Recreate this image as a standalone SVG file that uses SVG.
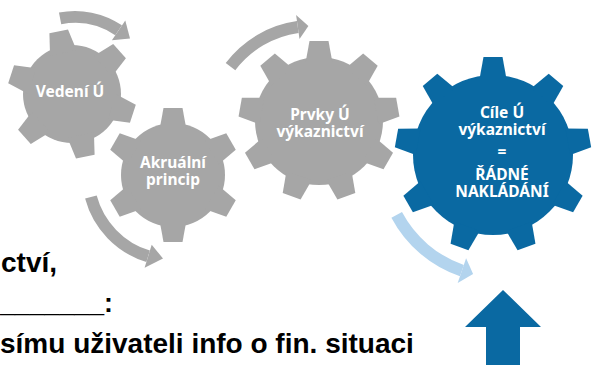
<svg xmlns="http://www.w3.org/2000/svg" width="593" height="365" viewBox="0 0 593 365">
<style>
.gray{fill:#a6a6a6}
.blue{fill:#0a69a2}
.gt{font-family:"Noto Sans","Open Sans","DejaVu Sans",sans-serif;font-weight:700;font-size:15.5px;fill:#ffffff;text-anchor:middle}
.band{fill:none;stroke-width:12}
.bandg{stroke:#a6a6a6}
.bandl{stroke:#b3d4ee}
.lt{font-family:"Liberation Sans",Arial,sans-serif;font-weight:700;font-size:28px;fill:#000000}
</style>
<defs>
<polygon id="tooth" points="-9.5,0 9.5,0 13.5,22 -13.5,22"/>
</defs>
<rect width="593" height="365" fill="#ffffff"/>

<g id="connectors">
<path class="band bandg" d="M60.1,18.4 A78,78 0 0 1 118.6,30.3"/>
<polygon class="gray" points="125.3,20.4 130,38.5 111.9,40.3"/>
<path class="band bandg" d="M90.9,197 A85,85 0 0 0 148.1,256.3"/>
<polygon class="gray" points="151.7,244.8 163,258.5 144.6,267.8"/>
<path class="band bandg" d="M230.5,66.6 A102,102 0 0 1 297.8,27"/>
<polygon class="gray" points="296.1,15.1 308.4,26.1 299.5,38.9"/>
<path class="band bandl" d="M396.7,214.9 A117,117 0 0 0 461.9,270.6"/>
<polygon fill="#b3d4ee" points="466.1,258.3 473.1,273.9 457.7,282.9"/>
<polygon id="up-arrow" class="blue" points="503,290 541,327 520,327 520,366 486,366 486,327 465,327"/>
</g>

<g id="gear-vedeni">
<g class="gray" transform="translate(72,94)">
<circle r="49"/>
<use href="#tooth" transform="rotate(-12) translate(0,-64)"/>
<use href="#tooth" transform="rotate(48) translate(0,-64)"/>
<use href="#tooth" transform="rotate(108) translate(0,-64)"/>
<use href="#tooth" transform="rotate(168) translate(0,-64)"/>
<use href="#tooth" transform="rotate(228) translate(0,-64)"/>
<use href="#tooth" transform="rotate(288) translate(0,-64)"/>
</g>
<text class="gt" x="70" y="97">Vedení Ú</text>
</g>

<g id="gear-akrualni">
<g class="gray" transform="translate(173,175)">
<circle r="52"/>
<use href="#tooth" transform="rotate(0) translate(0,-67)"/>
<use href="#tooth" transform="rotate(60) translate(0,-67)"/>
<use href="#tooth" transform="rotate(120) translate(0,-67)"/>
<use href="#tooth" transform="rotate(180) translate(0,-67)"/>
<use href="#tooth" transform="rotate(240) translate(0,-67)"/>
<use href="#tooth" transform="rotate(300) translate(0,-67)"/>
</g>
<text class="gt" x="173" y="168">Akruální</text>
<text class="gt" x="173" y="185">princip</text>
</g>

<g id="gear-prvky">
<g class="gray" transform="translate(319,121)">
<circle r="64"/>
<use href="#tooth" transform="rotate(0) translate(0,-80)"/>
<use href="#tooth" transform="rotate(40) translate(0,-80)"/>
<use href="#tooth" transform="rotate(80) translate(0,-80)"/>
<use href="#tooth" transform="rotate(120) translate(0,-80)"/>
<use href="#tooth" transform="rotate(160) translate(0,-80)"/>
<use href="#tooth" transform="rotate(200) translate(0,-80)"/>
<use href="#tooth" transform="rotate(240) translate(0,-80)"/>
<use href="#tooth" transform="rotate(280) translate(0,-80)"/>
<use href="#tooth" transform="rotate(320) translate(0,-80)"/>
</g>
<text class="gt" x="320" y="120">Prvky Ú</text>
<text class="gt" x="320" y="137">výkaznictví</text>
</g>

<g id="gear-cile">
<g class="blue" transform="translate(493,155)">
<circle r="80"/>
<use href="#tooth" transform="rotate(0) translate(0,-98)"/>
<use href="#tooth" transform="rotate(40) translate(0,-98)"/>
<use href="#tooth" transform="rotate(80) translate(0,-98)"/>
<use href="#tooth" transform="rotate(120) translate(0,-98)"/>
<use href="#tooth" transform="rotate(160) translate(0,-98)"/>
<use href="#tooth" transform="rotate(200) translate(0,-98)"/>
<use href="#tooth" transform="rotate(240) translate(0,-98)"/>
<use href="#tooth" transform="rotate(280) translate(0,-98)"/>
<use href="#tooth" transform="rotate(320) translate(0,-98)"/>
</g>
<text class="gt" x="502" y="118">Cíle Ú</text>
<text class="gt" x="502" y="135">výkaznictví</text>
<text class="gt" x="502" y="157">=</text>
<text class="gt" x="502" y="180">ŘÁDNÉ</text>
<text class="gt" x="502" y="197">NAKLÁDÁNÍ</text>
</g>

<g id="side-text">
<text class="lt" x="1" y="272">ctví,</text>
<text class="lt" x="0" y="312" textLength="113" lengthAdjust="spacingAndGlyphs">_______:</text>
<text class="lt" x="0" y="353">símu uživateli info o fin. situaci</text>
</g>
</svg>
